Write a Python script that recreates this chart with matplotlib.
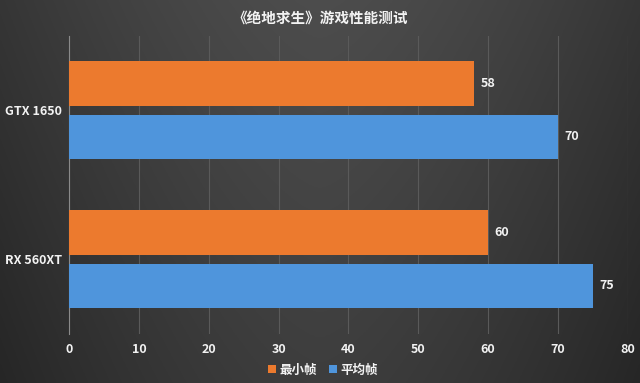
import matplotlib
matplotlib.use("Agg")
import matplotlib.pyplot as plt
import numpy as np

plt.rcParams['font.family'] = ['Noto Sans CJK SC', 'DejaVu Sans']

categories = ["GTX 1650", "RX 560XT"]
series_names = ["最小帧", "平均帧"]
min_fps = [58, 60]
avg_fps = [70, 75]
xticks = [0, 10, 20, 30, 40, 50, 60, 70, 80]
title = "《绝地求生》游戏性能测试"

orange = "#ec7a2e"
blue = "#4f95dc"
txt = "#f2f2f2"

fig = plt.figure(figsize=(6.4, 3.83), dpi=100)
fig.patch.set_facecolor("#3a3a3a")

# background gradient
bg = fig.add_axes([0, 0, 1, 1], zorder=-10)
xx = np.linspace(-1, 1, 400)
yy = np.linspace(-1, 1, 240)
X, Y = np.meshgrid(xx, yy)
G = 0.30 - 0.09 * np.abs(X) ** 1.5 - 0.03 * (Y + 1)
bg.imshow(np.dstack([G, G, G]).clip(0, 1), aspect="auto", extent=[0, 1, 0, 1])
bg.axis("off")

ax = fig.add_axes([0.108, 0.129, 0.873, 0.778])
ax.set_facecolor("none")

y = np.arange(len(categories))
h = 0.30
off = 0.18
b1 = ax.barh(y - off, min_fps, height=h, color=orange, label=series_names[0], zorder=3)
b2 = ax.barh(y + off, avg_fps, height=h, color=blue, label=series_names[1], zorder=3)

for bars, vals in ((b1, min_fps), (b2, avg_fps)):
    for r, v in zip(bars, vals):
        ax.text(r.get_width() + 0.9, r.get_y() + r.get_height() / 2, f"{v}",
                va="center", ha="left", color=txt, fontsize=9, fontweight="bold")

ax.set_xlim(0, 80)
ax.set_ylim(len(categories) - 0.5, -0.5)
ax.set_xticks(xticks)
ax.set_xticklabels([str(t) for t in xticks])
ax.set_yticks(y)
ax.set_yticklabels(categories, ha="left")
ax.tick_params(axis="x", length=0, pad=7, colors=txt, labelsize=9)
ax.tick_params(axis="y", length=0, pad=46, colors=txt, labelsize=9)
for lab in ax.get_xticklabels() + ax.get_yticklabels():
    lab.set_fontweight("bold")

ax.grid(axis="x", color="#5a5a5a", linewidth=0.8, zorder=0)
for s in ["top", "right", "bottom"]:
    ax.spines[s].set_visible(False)
ax.spines["left"].set_color("#8a8a8a")
ax.spines["left"].set_linewidth(0.8)

fig.text(0.5, 0.955, title, ha="center", va="center", color=txt,
         fontsize=10.5, fontweight="bold")

leg = fig.legend(handles=[b1, b2], labels=series_names, loc="center",
                 bbox_to_anchor=(0.505, 0.033), ncol=2, frameon=False,
                 handlelength=0.6, handleheight=0.6, handletextpad=0.3,
                 columnspacing=1.0, prop={"size": 9, "weight": "bold"})
for t in leg.get_texts():
    t.set_color(txt)

fig.savefig("out.png", dpi=100, facecolor=fig.get_facecolor())
